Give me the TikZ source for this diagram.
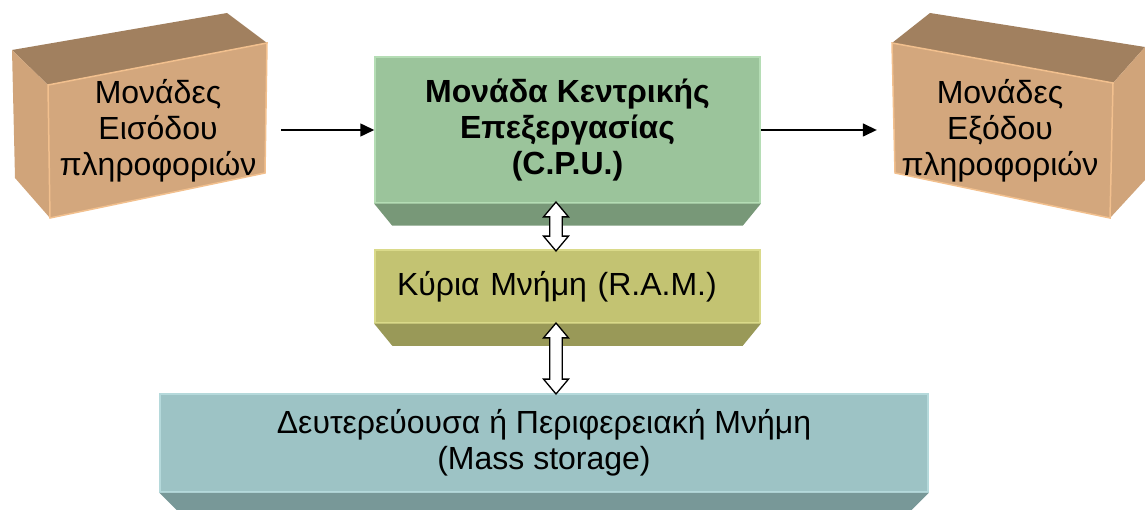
\documentclass[tikz,border=0pt]{standalone}
\usepackage{fontspec}
\setmainfont{Liberation Sans}
\usetikzlibrary{arrows.meta,shapes.arrows}

\definecolor{tanfront}{RGB}{211,167,125}
\definecolor{tantop}{RGB}{161,128,95}
\definecolor{tanside}{RGB}{208,164,122}
\definecolor{tanedge}{RGB}{242,192,142}
\definecolor{cpufront}{RGB}{155,196,155}
\definecolor{cpubev}{RGB}{120,152,120}
\definecolor{cpuedge}{RGB}{181,221,181}
\definecolor{ramfront}{RGB}{195,195,114}
\definecolor{rambev}{RGB}{153,153,88}
\definecolor{ramedge}{RGB}{218,218,138}
\definecolor{massfront}{RGB}{157,195,197}
\definecolor{massbev}{RGB}{120,152,152}
\definecolor{massedge}{RGB}{181,217,219}

\begin{document}
\begin{tikzpicture}[x=1pt, y=-1pt,
    every node/.style={font=\fontsize{32}{36}\selectfont, align=center},
    unit/.style={minimum width=218pt, inner sep=0pt},
    flat/.style={inner sep=0pt, line width=1.5pt},
    flow/.style={line width=1.5pt, -{Triangle[length=14pt, width=13pt]}},
    dbl/.style={double arrow, rotate=90, draw=black, fill=white, line width=1.3pt,
        minimum width=25pt, double arrow head extend=6pt,
        double arrow tip angle=80, inner xsep=0pt, inner ysep=5.5pt}]
    \useasboundingbox (0,0) rectangle (1145,510);

    % Boite entree
    \fill[tantop] (12,50) -- (227,13) -- (267,43) -- (48,85) -- cycle;
    \fill[tanside] (12,50) -- (48,85) -- (50,218) -- (15,178) -- cycle;
    \filldraw[fill=tanfront, draw=tanedge, line width=1.5pt] (48,85) -- (267,43) -- (265,173) -- (50,218) -- cycle;
    \node[unit] (in) at (158,131) {Μονάδες\\Εισόδου\\πληροφοριών};

    % Boite sortie
    \fill[tantop] (892,43) -- (930,13) -- (1145,47) -- (1113,83) -- cycle;
    \fill[tanside] (1113,83) -- (1145,47) -- (1145,180) -- (1110,218) -- cycle;
    \filldraw[fill=tanfront, draw=tanedge, line width=1.5pt] (892,43) -- (1113,83) -- (1110,218) -- (895,173) -- cycle;
    \node[unit] (out) at (1000,131) {Μονάδες\\Εξόδου\\πληροφοριών};

    % Unites centrales
    \node[flat, fill=cpufront, draw=cpuedge, minimum width=385pt, minimum height=146pt,
        font=\fontsize{32}{36}\selectfont\bfseries] (cpu) at (567.5,130)
        {Μονάδα Κεντρικής\\Επεξεργασίας\\(C.P.U.)};
    \node[flat, fill=ramfront, draw=ramedge, text width=341pt, inner xsep=22pt,
        minimum height=73pt, align=left] (ram) at (567.5,286.5) {Κύρια Μνήμη (R.A.M.)};
    \node[flat, fill=massfront, draw=massedge, minimum width=768pt, minimum height=98pt]
        (mass) at (544,443) {Δευτερεύουσα ή Περιφερειακή Μνήμη\\(Mass storage)};

    % Biseaux
    \fill[cpubev] (cpu.south west) -- (cpu.south east) -- ++(-18,22) -- ([shift={(18,22)}]cpu.south west) -- cycle;
    \fill[rambev] (ram.south west) -- (ram.south east) -- ++(-18,22) -- ([shift={(18,22)}]ram.south west) -- cycle;
    \fill[massbev] (mass.south west) -- (mass.south east) -- ++(-22,22) -- ([shift={(22,22)}]mass.south west) -- cycle;

    % Fleches
    \draw[flow, shorten <=14pt] (in.east |- cpu.west) -- (cpu.west);
    \draw[flow, shorten >=14pt] (cpu.east) -- (out.west |- cpu.east);
    \node[dbl, minimum height=49pt] (bus1) at (556,226.5) {};
    \node[dbl, minimum height=71pt] (bus2) at (556,358.5) {};

\end{tikzpicture}
\end{document}
